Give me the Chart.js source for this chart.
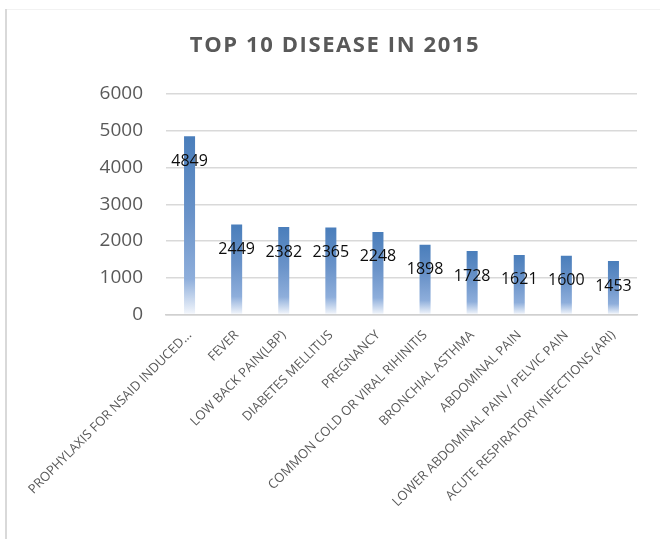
<!DOCTYPE html>
<html>
<head>
<meta charset="utf-8">
<script src="https://cdn.jsdelivr.net/npm/chart.js@4"></script>
<style>
  body { margin: 0; background: #fff; }
  #wrap { width: 660px; height: 539px; }
</style>
</head>
<body>
<div id="wrap"><canvas id="mychart" width="660" height="539"></canvas></div>
<script>
let title = 'TOP 10 DISEASE IN 2015';
let labels = ['PROPHYLAXIS FOR NSAID INDUCED...', 'FEVER', 'LOW BACK PAIN(LBP)', 'DIABETES MELLITUS', 'PREGNANCY',
  'COMMON COLD OR VIRAL RIHINITIS', 'BRONCHIAL ASTHMA', 'ABDOMINAL PAIN', 'LOWER ABDOMINAL PAIN / PELVIC PAIN',
  'ACUTE RESPIRATORY INFECTIONS (ARI)'];
let data = [4849, 2449, 2382, 2365, 2248, 1898, 1728, 1621, 1600, 1453];
let yTicks = [0, 1000, 2000, 3000, 4000, 5000, 6000];

function barFill(c) {
  let chart = c.chart;
  if (!chart.chartArea || c.raw == null) return '#4a7ebb';
  let y = chart.scales.y;
  let top = y.getPixelForValue(c.raw);
  let base = y.getPixelForValue(0);
  let g = chart.ctx.createLinearGradient(0, top, 0, base);
  g.addColorStop(0, '#4a7ebb');
  g.addColorStop(0.45, '#6a93c9');
  g.addColorStop(0.8, '#8eaedb');
  g.addColorStop(1, '#f4f7fc');
  return g;
}

// frame, title, value labels
let extras = {
  id: 'extras',
  beforeDraw(chart) {
    let ctx = chart.ctx;
    ctx.save();
    ctx.fillStyle = '#f2f2f2';
    ctx.fillRect(6, 9, 654, 1);
    ctx.fillStyle = '#d9d9d9';
    ctx.fillRect(5, 9, 2, 530);
    ctx.restore();
  },
  afterDraw(chart) {
    let ctx = chart.ctx;
    ctx.save();
    ctx.font = 'bold 22px "Open Sans"';
    ctx.letterSpacing = '1.6px';
    ctx.fillStyle = '#595959';
    ctx.textAlign = 'center';
    ctx.textBaseline = 'middle';
    ctx.fillText(title, 335, 46);
    ctx.restore();
  },
  afterDatasetsDraw(chart) {
    let ctx = chart.ctx;
    let meta = chart.getDatasetMeta(0);
    ctx.save();
    ctx.font = '16px "Open Sans"';
    ctx.fillStyle = '#0d0d0d';
    ctx.textAlign = 'center';
    ctx.textBaseline = 'middle';
    meta.data.forEach((bar, i) => {
      ctx.fillText(data[i], bar.x, bar.y + 25);
    });
    ctx.restore();
  }
};

let ctx = document.getElementById('mychart').getContext('2d');
let myChart = new Chart(ctx, {
  type: 'bar',
  data: {
    labels: labels,
    datasets: [{
      label: 'Cases',
      data: data,
      backgroundColor: barFill,
      barPercentage: 0.234,
      categoryPercentage: 1
    }]
  },
  options: {
    responsive: false,
    animation: false,
    layout: { padding: { top: 94, right: 23, bottom: 0, left: 0 } },
    plugins: {
      legend: { display: false },
      title: { display: false },
      tooltip: { enabled: false }
    },
    scales: {
      x: {
        grid: { display: false, drawTicks: false },
        border: { color: '#d0d0d0', width: 1.5 },
        ticks: {
          color: '#595959',
          font: { family: 'Open Sans', size: 13 },
          minRotation: 45,
          maxRotation: 45,
          autoSkip: false,
          padding: 13
        },
        afterFit(scale) { scale.height = 224.5; }
      },
      y: {
        min: 0,
        max: 6000,
        afterBuildTicks(scale) { scale.ticks = yTicks.map(v => ({ value: v })); },
        grid: { color: '#d9d9d9', lineWidth: 1.5, drawTicks: false },
        border: { display: false },
        ticks: {
          color: '#595959',
          font: { family: 'Open Sans', size: 19 },
          padding: 23,
          callback: v => String(v)
        },
        afterFit(scale) { scale.width = 166; }
      }
    }
  },
  plugins: [extras]
});
</script>
</body>
</html>
